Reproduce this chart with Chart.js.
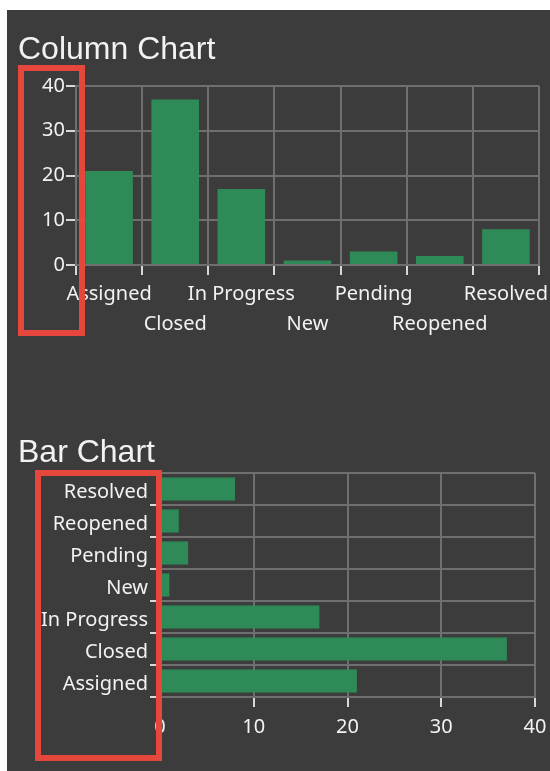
<!DOCTYPE html>
<html>
<head>
<meta charset="utf-8">
<title>Ticket Status</title>
<script src="https://cdn.jsdelivr.net/npm/chart.js@4.4.1/dist/chart.umd.min.js"></script>
<style>
  body { margin: 0; background: #fff; }
  #panel { position: absolute; left: 7px; top: 10px; width: 543px; height: 761px; background: #3c3c3c; }
  .chartBox { position: absolute; left: 0; width: 543px; }
  .mark { position: absolute; border: 6px solid #e5473d; box-sizing: border-box; }
</style>
</head>
<body>
<div id="panel">
  <div class="chartBox" style="top:0; height:335px"><canvas id="columnChart"></canvas></div>
  <div class="chartBox" style="top:400px; height:340px"><canvas id="barChart"></canvas></div>
</div>
<div class="mark" style="left:18px; top:65px; width:67px; height:271px"></div>
<div class="mark" style="left:35px; top:470px; width:127px; height:291px"></div>

<script>
  // ticket counts per status
  var statuses = ['Assigned', 'Closed', 'In Progress', 'New', 'Pending', 'Reopened', 'Resolved'];
  var ticketCounts = [21, 37, 17, 1, 3, 2, 8];
  var countTicks = [0, 10, 20, 30, 40];

  var barColor = '#2e8b57';
  var gridColor = '#6f6f6f';
  var tickMarkColor = '#d8d8d8';
  var textColor = '#f2f2f2';

  var tickFont = { family: "'Noto Sans', sans-serif", size: 20 };
  var titleFont = { family: "'Liberation Sans', Arial, sans-serif", size: 32, weight: 'normal' };

  function gridOptions() {
    return {
      color: gridColor,
      lineWidth: 2,
      tickColor: tickMarkColor,
      tickWidth: 2,
      tickLength: 10
    };
  }

  // fix an axis to a set size so both charts line up
  function fixWidth(w) {
    return function(scale) {
      scale.width = w;
      scale.paddingTop = 0;
      scale.paddingBottom = 0;
    };
  }
  function fixHeight(h) {
    return function(scale) {
      scale.height = h;
      scale.paddingLeft = 0;
      scale.paddingRight = 0;
    };
  }

  function countAxis() {
    return {
      min: countTicks[0],
      max: countTicks[countTicks.length - 1],
      afterBuildTicks: function(scale) {
        scale.ticks = countTicks.map(function(v) { return { value: v }; });
      },
      grid: gridOptions(),
      border: { color: gridColor, width: 2 }
    };
  }

  Chart.defaults.animation = false;
  Chart.defaults.color = textColor;

  // Column chart
  var colY = countAxis();
  colY.ticks = { color: textColor, font: tickFont, padding: 1 };
  colY.afterFit = fixWidth(58);

  new Chart(document.getElementById('columnChart'), {
    type: 'bar',
    data: {
      labels: statuses,
      datasets: [{
        data: ticketCounts,
        backgroundColor: barColor,
        categoryPercentage: 1,
        barPercentage: 0.72
      }]
    },
    options: {
      responsive: true,
      maintainAspectRatio: false,
      layout: { padding: { left: 11, right: 11, top: 0, bottom: 0 } },
      plugins: {
        legend: { display: false },
        tooltip: { enabled: false },
        title: {
          display: true,
          text: 'Column Chart',
          align: 'start',
          color: textColor,
          font: titleFont,
          padding: { top: 21, bottom: 16.6 }
        }
      },
      scales: {
        x: {
          grid: gridOptions(),
          border: { color: gridColor, width: 2 },
          ticks: {
            color: textColor,
            font: { family: tickFont.family, size: 20, lineHeight: 1.5 },
            padding: 4,
            autoSkip: false,
            maxRotation: 0,
            // every other label drops to a second row
            callback: function(value, index) {
              var lbl = this.getLabelForValue(value);
              return index % 2 ? ['', lbl] : lbl;
            }
          },
          afterFit: fixHeight(80)
        },
        y: colY
      }
    }
  });

  // Bar chart
  var barX = countAxis();
  barX.ticks = { color: textColor, font: tickFont, padding: 8 };
  barX.afterFit = fixHeight(53);

  new Chart(document.getElementById('barChart'), {
    type: 'bar',
    data: {
      labels: statuses,
      datasets: [{
        data: ticketCounts,
        backgroundColor: barColor,
        categoryPercentage: 1,
        barPercentage: 0.72
      }]
    },
    options: {
      indexAxis: 'y',
      responsive: true,
      maintainAspectRatio: false,
      layout: { padding: { left: 11, right: 15, top: 0, bottom: 0 } },
      plugins: {
        legend: { display: false },
        tooltip: { enabled: false },
        title: {
          display: true,
          text: 'Bar Chart',
          align: 'start',
          color: textColor,
          font: titleFont,
          padding: { top: 24, bottom: 0.6 }
        }
      },
      scales: {
        x: barX,
        y: {
          reverse: true,
          grid: gridOptions(),
          border: { color: gridColor, width: 2 },
          ticks: { color: textColor, font: tickFont, padding: 2, autoSkip: false, labelOffset: 3 },
          afterFit: fixWidth(142)
        }
      }
    }
  });
</script>
</body>
</html>
